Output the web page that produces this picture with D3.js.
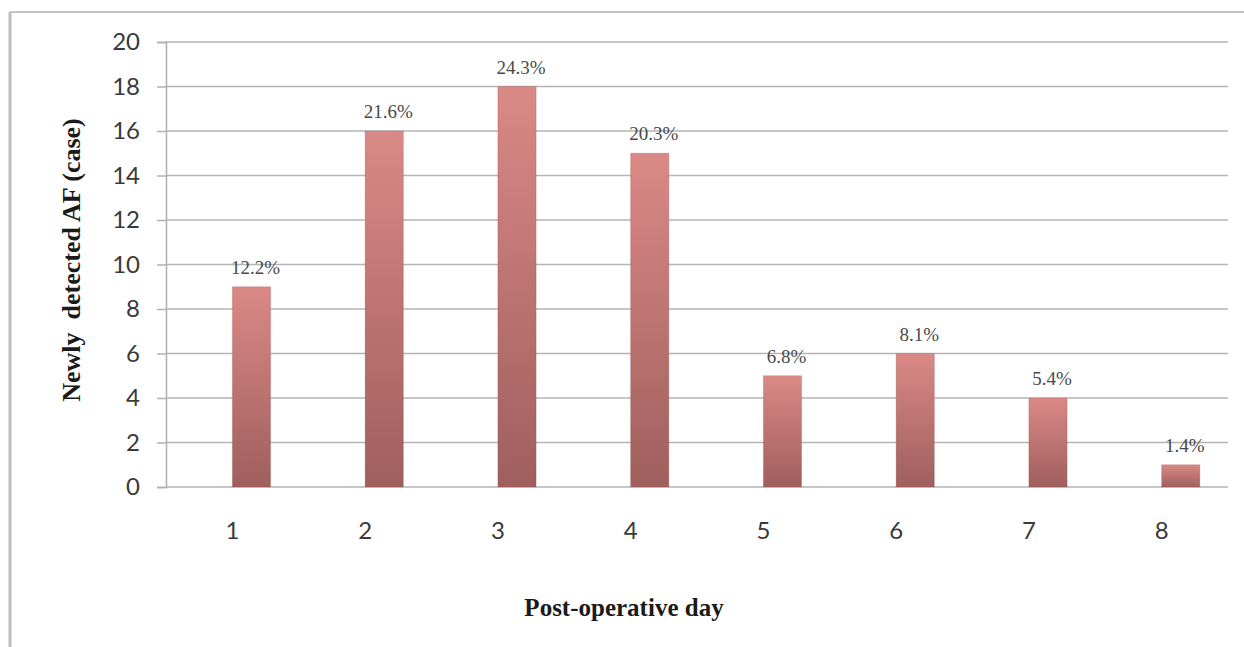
<!DOCTYPE html>
<html>
<head>
<meta charset="utf-8">
<script src="https://cdn.jsdelivr.net/npm/d3@7"></script>
<style>
  html, body { margin: 0; padding: 0; background: #fff; }
  svg { display: block; }
</style>
</head>
<body>
<script>
// Post-operative day on which AF was first detected
const days = ["1", "2", "3", "4", "5", "6", "7", "8"];
// Number of newly detected AF cases per day
const cases = [9, 16, 18, 15, 5, 6, 4, 1];
// Share of all cases, as printed above each bar
const shareLabels = ["12.2%", "21.6%", "24.3%", "20.3%", "6.8%", "8.1%", "5.4%", "1.4%"];
// Value-axis ticks
const yTicks = [0, 2, 4, 6, 8, 10, 12, 14, 16, 18, 20];

const W = 1244, H = 647;
const plot = { left: 166, right: 1228, top: 42, bottom: 487 };

const svg = d3.select("body").append("svg")
  .attr("width", W).attr("height", H);

// Outer frame (top and left edges)
svg.append("line").attr("x1", 10).attr("x2", W).attr("y1", 12).attr("y2", 12)
  .attr("stroke", "#c4c4c4").attr("stroke-width", 2);
svg.append("line").attr("x1", 10).attr("x2", 10).attr("y1", 12).attr("y2", H)
  .attr("stroke", "#bdbdbd").attr("stroke-width", 3);

const x = d3.scaleBand().domain(days).range([plot.left, plot.right]).padding(0);
const y = d3.scaleLinear().domain([0, 20]).range([plot.bottom, plot.top]);

// Bar fill: lighter at the top, darker at the base
const defs = svg.append("defs");
const grad = defs.append("linearGradient").attr("id", "barFill")
  .attr("x1", 0).attr("y1", 0).attr("x2", 0).attr("y2", 1);
grad.append("stop").attr("offset", "0%").attr("stop-color", "#da8986");
grad.append("stop").attr("offset", "100%").attr("stop-color", "#9f5f5d");

// Horizontal gridlines
svg.append("g")
  .selectAll("line").data(yTicks).join("line")
  .attr("x1", plot.left).attr("x2", plot.right)
  .attr("y1", d => y(d)).attr("y2", d => y(d))
  .attr("stroke", "#b5b5b5").attr("stroke-width", 1.5);

// Value axis
const yAxis = svg.append("g")
  .attr("transform", `translate(${plot.left},0)`)
  .call(d3.axisLeft(y).tickValues(yTicks).tickSize(9).tickPadding(17));
yAxis.select(".domain").attr("stroke", "#b0b0b0").attr("stroke-width", 1.5);
yAxis.selectAll(".tick line").attr("stroke", "#b0b0b0").attr("stroke-width", 1.5);
yAxis.selectAll(".tick text")
  .attr("font-family", "Lato, 'Open Sans', sans-serif")
  .attr("font-size", 24).attr("fill", "#3a3a3a");

// Category axis
const xAxis = svg.append("g")
  .attr("transform", `translate(0,${plot.bottom})`)
  .call(d3.axisBottom(x).tickSize(0).tickPadding(35));
xAxis.select(".domain").remove();
xAxis.selectAll(".tick text")
  .attr("font-family", "Lato, 'Open Sans', sans-serif")
  .attr("font-size", 24).attr("fill", "#3a3a3a");

// Bars sit just right of each category centre
const barW = x.bandwidth() * 0.288;
const barX = d => x(d) + x.bandwidth() / 2;

svg.append("g")
  .selectAll("rect").data(days).join("rect")
  .attr("x", d => barX(d))
  .attr("y", (d, i) => y(cases[i]))
  .attr("width", barW)
  .attr("height", (d, i) => y(0) - y(cases[i]))
  .attr("fill", "url(#barFill)")
  .attr("stroke", "rgba(150,80,80,0.25)").attr("stroke-width", 1);

// Percentage labels above the bars
svg.append("g")
  .selectAll("text").data(days).join("text")
  .attr("x", d => barX(d) + barW / 2 + 4)
  .attr("y", (d, i) => y(cases[i]) - 13)
  .attr("text-anchor", "middle")
  .attr("font-family", "'Liberation Serif', 'Times New Roman', serif")
  .attr("font-size", 19).attr("fill", "#4a4a4a")
  .text((d, i) => shareLabels[i]);

// Axis titles
svg.append("text")
  .attr("x", 624).attr("y", 616)
  .attr("text-anchor", "middle")
  .attr("font-family", "'Liberation Serif', 'Times New Roman', serif")
  .attr("font-weight", "bold").attr("font-size", 25).attr("fill", "#1a1a1a")
  .text("Post-operative day");

svg.append("text")
  .attr("transform", "translate(80,260) rotate(-90)")
  .attr("text-anchor", "middle")
  .attr("font-family", "'Liberation Serif', 'Times New Roman', serif")
  .attr("font-weight", "bold").attr("font-size", 26).attr("fill", "#1a1a1a")
  .attr("xml:space", "preserve")
  .style("white-space", "pre")
  .text("Newly  detected AF (case)");
</script>
</body>
</html>
